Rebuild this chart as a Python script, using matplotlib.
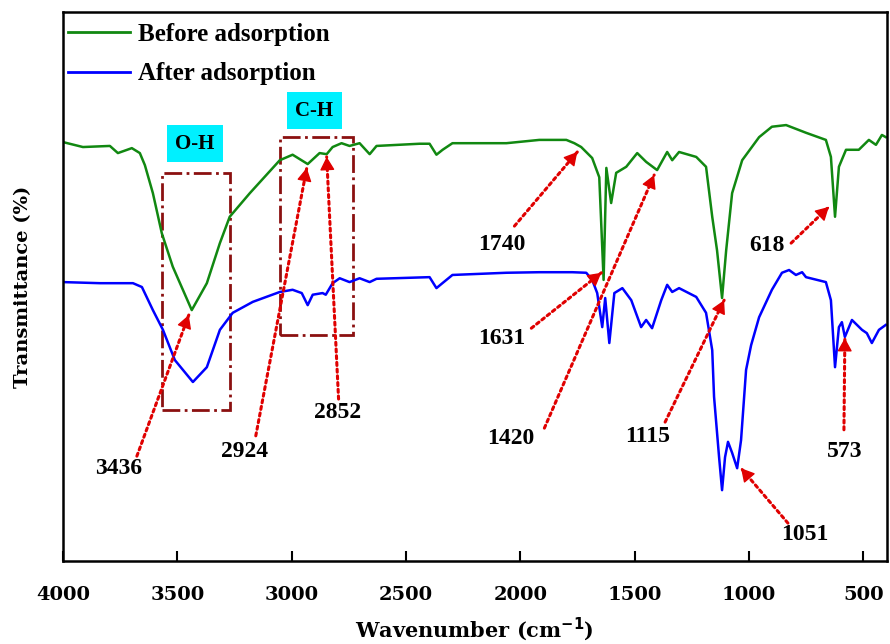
"""FTIR spectra before / after adsorption with annotated bands."""

import matplotlib
matplotlib.use('Agg')
import matplotlib.pyplot as plt
from matplotlib.patches import Rectangle

# Spectra (wavenumber in cm-1, transmittance in a.u.)
before_wn = [4000, 3913, 3795, 3760, 3699, 3664, 3642, 3607, 3568, 3520, 3437,
             3371, 3314, 3271, 3183, 3052, 2996, 2930, 2878, 2847, 2821, 2782,
             2747, 2703, 2659, 2629, 2441, 2397, 2367, 2340, 2297, 2061, 1917,
             1799, 1764, 1734, 1686, 1655, 1636, 1624, 1603, 1581, 1537, 1489,
             1450, 1402, 1358, 1336, 1306, 1231, 1188, 1161, 1140, 1118, 1100,
             1074, 1030, 956, 900, 838, 782, 751, 664, 642, 624, 607, 576, 520,
             476, 445, 419, 402]
before_T = [76.3, 75.4, 75.6, 74.3, 75.2, 74.3, 72.1, 67.0, 59.7, 53.6, 45.7,
            50.6, 57.9, 62.7, 67.0, 73.0, 74.0, 72.3, 74.3, 74.1, 75.4, 76.1,
            75.6, 76.1, 74.1, 75.6, 76.0, 76.0, 74.0, 74.9, 76.1, 76.1, 76.7,
            76.7, 76.1, 75.4, 73.4, 69.9, 51.2, 71.6, 65.2, 70.7, 71.8, 74.3,
            72.7, 71.2, 74.5, 73.0, 74.5, 73.6, 71.8, 62.7, 56.6, 47.9, 56.6,
            67.0, 73.0, 77.2, 79.1, 79.4, 78.5, 78.0, 76.7, 73.6, 62.7, 71.8,
            74.9, 74.9, 76.7, 75.8, 77.6, 77.2]

after_wn = [4000, 3838, 3694, 3655, 3607, 3563, 3511, 3432, 3371, 3314, 3258,
            3170, 3052, 2996, 2956, 2930, 2908, 2865, 2851, 2821, 2790, 2747,
            2703, 2659, 2629, 2397, 2367, 2341, 2297, 2061, 1917, 1773, 1712,
            1686, 1664, 1642, 1629, 1611, 1589, 1554, 1515, 1472, 1450, 1424,
            1384, 1358, 1336, 1306, 1231, 1188, 1161, 1153, 1131, 1118, 1105,
            1092, 1074, 1052, 1035, 1013, 991, 956, 900, 856, 825, 795, 768,
            751, 664, 642, 624, 607, 594, 581, 550, 506, 485, 463, 432, 402]
after_T = [50.8, 50.6, 50.6, 49.9, 45.7, 42.1, 36.6, 32.6, 35.3, 42.1, 45.2,
           47.2, 49.0, 49.4, 48.8, 46.6, 48.5, 48.8, 48.5, 50.6, 51.5, 50.8,
           51.5, 50.8, 51.4, 51.7, 49.7, 50.6, 52.1, 52.5, 52.6, 52.6, 52.5,
           51.2, 48.8, 42.6, 47.9, 39.7, 48.8, 49.7, 47.5, 42.6, 43.9, 42.4,
           47.5, 50.3, 49.0, 49.7, 48.1, 45.2, 38.4, 29.9, 18.9, 12.9, 18.9,
           21.7, 19.7, 16.9, 22.0, 34.8, 39.3, 44.4, 49.4, 52.5, 53.0, 52.1,
           52.6, 51.7, 50.8, 47.5, 35.3, 42.6, 43.5, 40.8, 43.9, 42.1, 41.5,
           39.7, 42.1, 43.0]

# band labels: (text, arrow tip, arrow tail, label position)
band_labels = ['3436', '2924', '2852', '1740', '1631', '1420', '1115', '618', '573', '1051']
band_tips = [(3450, 44.8), (2934, 71.6), (2847, 73.6), (1751, 74.5), (1646, 52.5),
             (1415, 70.3), (1109, 47.5), (651, 64.5), (581, 40.6), (1035, 16.9)]
band_tails = [(3677, 19.1), (3157, 22.8), (2795, 29.5), (2026, 61.0), (1952, 42.4),
              (1895, 24.2), (1367, 25.3), (816, 57.9), (585, 23.9), (830, 6.9)]
band_text = [(3755, 16.8), (3205, 20.0), (2799, 27.0), (2083, 57.6), (2083, 40.6),
             (2044, 22.4), (1445, 22.6), (921, 57.4), (581, 19.9), (755, 4.9)]

# group boxes: (label, wn_left, wn_right, T_bottom, T_top, label position)
groups = [('O-H', 3568, 3271, 27.5, 70.7, (3424, 76.0)),
          ('C-H', 3052, 2734, 41.2, 77.2, (2900, 82.0))]

SERIF = 'Liberation Serif'
TICKFONT = 'DejaVu Serif'
RED = '#e00000'

fig = plt.figure(figsize=(8.9, 6.44), dpi=100)
ax = fig.add_axes([0.0708, 0.1289, 0.9255, 0.8525])

ax.plot(before_wn, before_T, color='#118811', lw=1.8, label='Before adsorption')
ax.plot(after_wn, after_T, color='#0000ff', lw=1.8, label='After adsorption')

for (name, wl, wr, tb, tt, pos) in groups:
    ax.add_patch(Rectangle((wl, tb), wr - wl, tt - tb, fill=False,
                           edgecolor='#8b1010', lw=2, linestyle='-.'))
    ax.text(pos[0], pos[1], name, ha='center', va='center', fontsize=15,
            fontweight='bold', family=SERIF,
            bbox=dict(boxstyle='square,pad=0.4', facecolor='#00f0ff', edgecolor='none'))

for lab, tip, tail, tpos in zip(band_labels, band_tips, band_tails, band_text):
    # dotted shaft
    ax.annotate('', xy=tip, xytext=tail,
                arrowprops=dict(arrowstyle='-', color=RED, lw=2.2, linestyle=(0, (1, 1.2)),
                                shrinkA=0, shrinkB=0))
    # solid head, drawn on a tiny stub at the tip
    stub = (tip[0] + (tail[0] - tip[0]) * 0.02, tip[1] + (tail[1] - tip[1]) * 0.02)
    ax.annotate('', xy=tip, xytext=stub,
                arrowprops=dict(arrowstyle='-|>,head_length=0.45,head_width=0.25',
                                color=RED, lw=1, mutation_scale=18,
                                shrinkA=0, shrinkB=0))
    ax.text(tpos[0], tpos[1], lab, ha='center', va='center', fontsize=17,
            fontweight='bold', family=SERIF)

ax.set_xlim(4000, 398)
ax.set_ylim(0, 100)
ax.set_xticks([4000, 3500, 3000, 2500, 2000, 1500, 1000, 500])
ax.set_yticks([])
ax.tick_params(axis='x', direction='in', length=7, width=1.5, pad=18)
for t in ax.get_xticklabels():
    t.set_fontfamily(TICKFONT)
    t.set_fontweight('bold')
    t.set_fontsize(14)
for s in ax.spines.values():
    s.set_linewidth(1.8)

ax.set_xlabel(r'Wavenumber (cm$^{\mathbf{-1}}$)', fontsize=15, fontweight='bold',
              family=TICKFONT, labelpad=8)
ax.set_ylabel('Transmittance (%)', fontsize=14, fontweight='bold',
              family=TICKFONT, labelpad=22)

leg = ax.legend(loc='upper left', bbox_to_anchor=(-0.008, 1.0), frameon=False,
                prop={'family': SERIF, 'weight': 'bold', 'size': 18},
                handlelength=2.5, handletextpad=0.3, borderaxespad=0.1,
                borderpad=0.35, labelspacing=0.65)
for h in leg.get_lines():
    h.set_linewidth(2)

fig.savefig('out.png', dpi=100)
